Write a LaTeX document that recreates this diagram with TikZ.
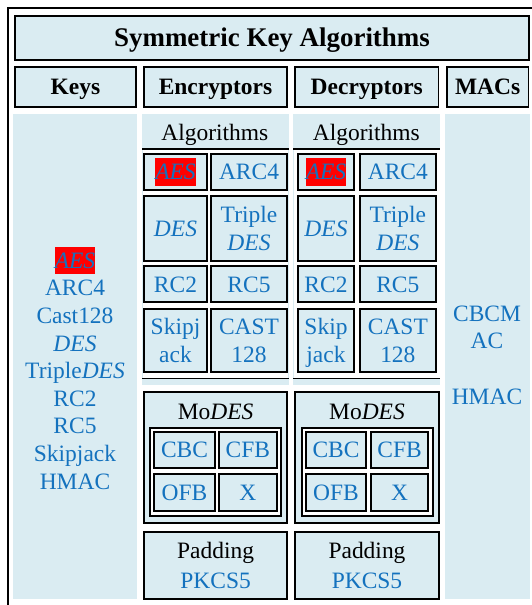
\documentclass[tikz,border=0pt]{standalone}
\usepackage{fontspec}
\setmainfont{Liberation Serif}
\definecolor{lblue}{RGB}{218,236,242}
\definecolor{kblue}{RGB}{20,114,190}
\newcommand\fsz{\fontsize{17.6pt}{20.7pt}\selectfont}
\newcommand\ftitle{\fontsize{20.2pt}{24pt}\selectfont\bfseries}
\newcommand\cst{\vrule height 16.3pt depth 4.4pt width 0pt}
\newcommand\tst{\vrule height 18.3pt depth 4.9pt width 0pt}
\newcommand\hl[1]{{\setlength\fboxsep{0pt}\colorbox{red}{\cst\itshape #1}}}
\begin{document}
\begin{tikzpicture}[x=0.75pt,y=-0.75pt,
  sz/.style 2 args={minimum width=#1*0.75pt, minimum height=#2*0.75pt},
  box/.style={draw=black, line width=1.3pt, fill=lblue, inner sep=0pt, outer sep=0pt},
  strutted/.style={execute at begin node=\cst, execute at end node=\cst},
  hdr/.style={box, strutted, font=\fsz\bfseries},
  cell/.style={box, strutted, text=kblue, font=\fsz, align=center},
  bg/.style={fill=lblue, draw=none, inner sep=0pt, outer sep=0pt},
  wbg/.style={fill=white, draw=black, line width=1.3pt, inner sep=0pt, outer sep=0pt},
  lbl/.style={font=\fsz, text=black, inner sep=0pt, anchor=base},
  txt/.style={font=\fsz, text=kblue, align=center, inner sep=0pt},
  seprule/.style={line width=0.8pt}]
\useasboundingbox (0,0) rectangle (531,605);
\fill[white] (0,0) rectangle (531,605);
\draw[line width=1.2pt] (8,606) -- (8,8) -- (532,8);
% title and headers
\node[box, sz={514}{44}, font=\ftitle, execute at begin node=\tst, execute at end node=\tst] (title) at (272,38) {Symmetric Key Algorithms};
\node[hdr, sz={121}{40}] (hkeys) at (75.5,87) {Keys};
\node[hdr, sz={143}{40}] (henc) at (215.5,87) {Encryptors};
\node[hdr, sz={143.5}{40}] (hdec) at (366.75,87) {Decryptors};
\node[hdr, sz={81.8}{40}] (hmac) at (487.6,87) {MACs};
% column backgrounds
\node[bg, sz={124}{485}] (keysbg) at (75,356.5) {};
\node[bg, sz={146.7}{271}] (encbg) at (215.35,249.5) {};
\node[bg, sz={146.7}{271}] (decbg) at (366.65,249.5) {};
\node[bg, sz={85.5}{485}] (macbg) at (487.25,356.5) {};
% keys and MACs texts
\node[txt] (keystxt) at (75,368) {\hl{AES}\\ARC4\\Cast128\\\textit{DES}\\Triple\textit{DES}\\RC2\\RC5\\Skipjack\\HMAC};
\node[txt] (mactxt) at (487,355) {CBCM\\AC\\[20.7pt]HMAC};
% algorithms grids
\node[lbl] (encalg) at (214.8,140.5) {Algorithms};
\node[lbl] (decalg) at (366.3,140.5) {Algorithms};
\fill[white] (142.5,149) rectangle (288.3,378.5);
\fill[white] (293.7,149) rectangle (439.6,378.5);
\draw[seprule] (142,149) -- (288.7,149);
\draw[seprule] (142,378.5) -- (288.7,378.5);
\draw[seprule] (293.3,149) -- (440,149);
\draw[seprule] (293.3,378.5) -- (440,378.5);
% encryptors cells
\node[cell, sz={62.4}{36.6}] (eaes) at (175.5,172) {\hl{AES}};
\node[cell, sz={76}{36.6}] (earc) at (249,172) {ARC4};
\node[cell, sz={62.4}{64.7}] (edes) at (175.5,228.35) {\textit{DES}};
\node[cell, sz={76}{64.7}] (etdes) at (249,228.35) {\cst Triple\\\textit{DES}\cst};
\node[cell, sz={62.4}{36.3}] (erc2) at (175.5,284.15) {RC2};
\node[cell, sz={76}{36.3}] (erc5) at (249,284.15) {RC5};
\node[cell, sz={62.4}{63.6}] (eskip) at (175.5,340.5) {\cst Skipj\\ack\cst};
\node[cell, sz={76}{63.6}] (ecast) at (249,340.5) {\cst CAST\\128\cst};
% decryptors cells
\node[cell, sz={56.6}{36.6}] (daes) at (326,172) {\hl{AES}};
\node[cell, sz={75.7}{36.6}] (darc) at (397.85,172) {ARC4};
\node[cell, sz={56.6}{64.7}] (ddes) at (326,228.35) {\textit{DES}};
\node[cell, sz={75.7}{64.7}] (dtdes) at (397.85,228.35) {\cst Triple\\\textit{DES}\cst};
\node[cell, sz={56.6}{36.3}] (drc2) at (326,284.15) {RC2};
\node[cell, sz={75.7}{36.3}] (drc5) at (397.85,284.15) {RC5};
\node[cell, sz={56.6}{63.6}] (dskip) at (326,340.5) {\cst Skip\\jack\cst};
\node[cell, sz={75.7}{63.6}] (dcast) at (397.85,340.5) {\cst CAST\\128\cst};
% modes boxes
\node[box, sz={142.7}{131.3}] (emodes) at (215.65,457.65) {};
\node[lbl] (emodeslbl) at (215.6,419.5) {Mo\textit{DES}};
\node[wbg, sz={130.4}{88}] (emframe) at (215.5,471.7) {};
\node[cell, sz={60.4}{36}] (ecbc) at (184.5,450) {CBC};
\node[cell, sz={57.7}{36}] (ecfb) at (247.85,450) {CFB};
\node[cell, sz={60.4}{37}] (eofb) at (184.5,492.8) {OFB};
\node[cell, sz={57.7}{37}] (ex) at (247.85,492.8) {X};
\node[box, sz={143.4}{131.3}] (dmodes) at (367,457.65) {};
\node[lbl] (dmodeslbl) at (367,419.5) {Mo\textit{DES}};
\node[wbg, sz={131}{88}] (dmframe) at (367.2,471.7) {};
\node[cell, sz={59.4}{36}] (dcbc) at (336,450) {CBC};
\node[cell, sz={56.7}{36}] (dcfb) at (399.65,450) {CFB};
\node[cell, sz={59.4}{37}] (dofb) at (336,492.8) {OFB};
\node[cell, sz={56.7}{37}] (dx) at (399.65,492.8) {X};
% padding boxes
\node[cell, sz={142.7}{67}, text=black] (epad) at (215.65,565.5) {\cst Padding\\[1.5pt]\textcolor{kblue}{PKCS5}\cst};
\node[cell, sz={143.4}{67}, text=black] (dpad) at (367,565.5) {\cst Padding\\[1.5pt]\textcolor{kblue}{PKCS5}\cst};
\end{tikzpicture}
\end{document}
